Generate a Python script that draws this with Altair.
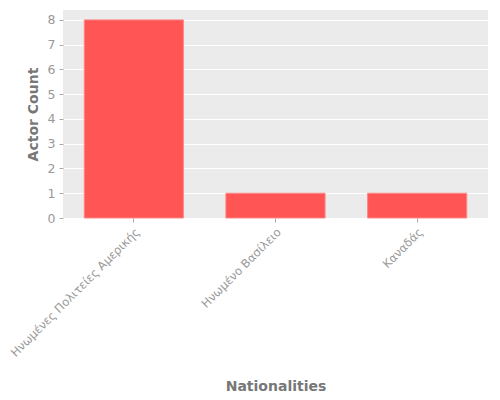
import altair as alt
import pandas as pd

nationalities = ["Ηνωμένες Πολιτείες Αμερικής", "Ηνωμένο Βασίλειο", "Καναδάς"]
counts = [8, 1, 1]

df = pd.DataFrame({"Nationalities": nationalities, "Actor Count": counts})

chart = alt.Chart(df).mark_bar(color="#FF5555", stroke="#FF8888", strokeWidth=1).encode(
    x=alt.X("Nationalities:N", sort=nationalities,
            scale=alt.Scale(paddingInner=0.3, paddingOuter=0.15),
            axis=alt.Axis(labelAngle=-45, title="Nationalities", grid=False,
                          labelLimit=400, titleBaseline="alphabetic", titleY=172)),
    y=alt.Y("Actor Count:Q", scale=alt.Scale(domain=[0, 8.4], nice=False),
            axis=alt.Axis(values=[0, 1, 2, 3, 4, 5, 6, 7, 8], title="Actor Count",
                          titlePadding=7, labelFontSize=12.5)),
).properties(
    width=425, height=208,
    autosize=alt.AutoSizeParams(type="none"),
    padding={"left": 55, "top": 2, "right": 4, "bottom": 182},
).configure_view(
    fill="#EBEBEB", stroke=None
).configure_axis(
    labelFont="DejaVu Sans", titleFont="DejaVu Sans",
    labelColor="#999999", titleColor="#777777",
    labelFontSize=11.6, titleFontSize=14, titleFontWeight="bold",
    gridColor="#FFFFFF", gridWidth=1, domain=False,
    tickColor="#AAAAAA", tickSize=4, labelPadding=4,
)

chart.save("out.html", embed_options={"renderer": "svg", "actions": False})
